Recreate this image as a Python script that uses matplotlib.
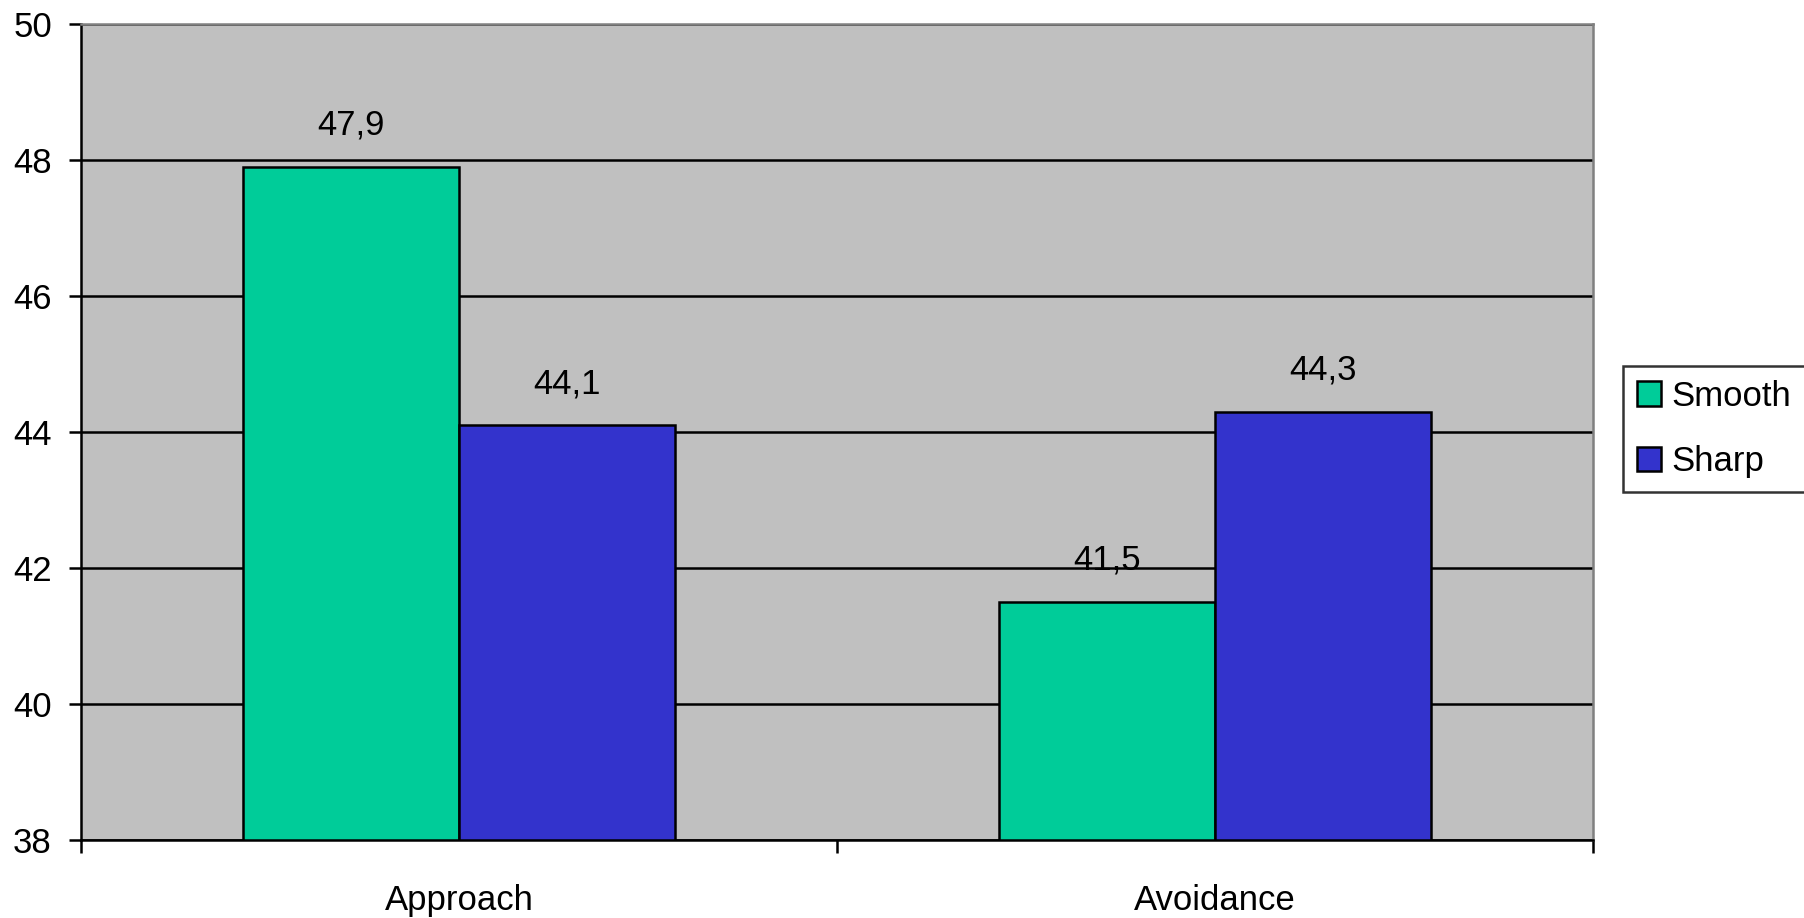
import matplotlib
matplotlib.use("Agg")
import matplotlib.pyplot as plt
from matplotlib.patches import Patch
import numpy as np

plt.rcParams['font.family'] = ['Liberation Sans', 'DejaVu Sans']

categories = ["Approach", "Avoidance"]
series_names = ["Smooth", "Sharp"]
smooth_vals = [47.9, 41.5]
sharp_vals = [44.1, 44.3]
value_labels_smooth = ["47,9", "41,5"]
value_labels_sharp = ["44,1", "44,3"]
y_ticks = [38, 40, 42, 44, 46, 48, 50]

colors = ["#00CC99", "#3333CC"]
FS = 25
LW = 1.8

W, H = 1804, 918
fig = plt.figure(figsize=(W / 100, H / 100), dpi=100)
ax = fig.add_axes([81 / W, 1 - 840 / H, (1593 - 81) / W, (840 - 24) / H])
ax.set_facecolor("#C0C0C0")

x = np.arange(len(categories))
bw = 0.2857
ybase = y_ticks[0]
for i, (vals, labs) in enumerate([(smooth_vals, value_labels_smooth),
                                  (sharp_vals, value_labels_sharp)]):
    pos = x + (i - 0.5) * bw
    heights = [v - ybase for v in vals]
    ax.bar(pos, heights, bottom=ybase, width=bw, color=colors[i],
           edgecolor="black", linewidth=LW, zorder=3)
    for p, v, lab in zip(pos, vals, labs):
        ax.annotate(lab, (p, v), xytext=(0, 30), textcoords="offset points",
                    ha="center", va="center", fontsize=FS, zorder=4)

ax.set_xlim(-0.5, len(categories) - 0.5)
ax.set_ylim(y_ticks[0], y_ticks[-1])
ax.set_yticks(y_ticks)
ax.set_yticklabels([str(t) for t in y_ticks], fontsize=FS)
ax.yaxis.grid(True, color="black", linewidth=LW, zorder=1)
ax.set_axisbelow(True)

ax.set_xticks(x)
ax.set_xticklabels(categories, fontsize=FS)
ax.tick_params(axis="x", which="major", length=0, pad=32)
ax.set_xticks(np.arange(len(categories) + 1) - 0.5, minor=True)
ax.tick_params(axis="x", which="minor", length=9, width=LW, direction="out")
ax.tick_params(axis="y", length=9, width=LW, direction="out", pad=12)

for s in ["left", "bottom"]:
    ax.spines[s].set_color("black")
    ax.spines[s].set_linewidth(LW)
for s in ["top", "right"]:
    ax.spines[s].set_color("#808080")
    ax.spines[s].set_linewidth(LW)

handles = [Patch(facecolor=c, edgecolor="black", linewidth=LW) for c in colors]
leg = fig.legend(handles, series_names, loc="center left",
                 bbox_to_anchor=(1623 / W, 1 - 429 / H), fontsize=FS,
                 frameon=True, fancybox=False, edgecolor="black",
                 handlelength=0.7, handleheight=0.7, handletextpad=0.3,
                 borderpad=0.4, labelspacing=0.95, borderaxespad=0)
leg.get_frame().set_linewidth(LW)

fig.savefig("out.png", dpi=100)
